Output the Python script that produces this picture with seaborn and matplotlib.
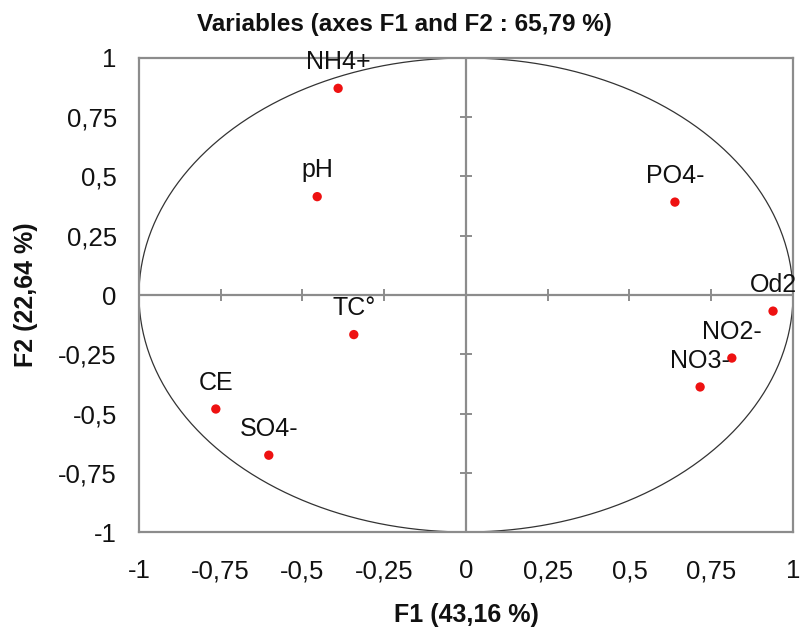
import numpy as np
import pandas as pd
import matplotlib
matplotlib.use("Agg")
import matplotlib.pyplot as plt
import seaborn as sns

# Correlation circle of the PCA variables on F1/F2
variables = ["NH4+", "pH", "PO4-", "Od2", "NO2-", "NO3-", "TC°", "CE", "SO4-"]
f1 = [-0.391, -0.455, 0.639, 0.939, 0.813, 0.716, -0.343, -0.765, -0.603]
f2 = [0.872, 0.415, 0.392, -0.068, -0.266, -0.388, -0.167, -0.481, -0.676]

tick_values = [-1, -0.75, -0.5, -0.25, 0, 0.25, 0.5, 0.75, 1]
tick_labels = ["-1", "-0,75", "-0,5", "-0,25", "0", "0,25", "0,5", "0,75", "1"]

title = "Variables (axes F1 and F2 : 65,79 %)"
xlabel = "F1 (43,16 %)"
ylabel = "F2 (22,64 %)"

df = pd.DataFrame({"variable": variables, "F1": f1, "F2": f2})

sns.set_theme(style="white")
plt.rcParams["font.family"] = ["Liberation Sans", "DejaVu Sans"]

fig = plt.figure(figsize=(8.01, 6.29), dpi=100)
ax = fig.add_axes([0.1735, 0.1542, 0.8165, 0.7536])

grey = "#8c8c8c"

# unit circle
theta = np.linspace(0, 2 * np.pi, 400)
ax.plot(np.cos(theta), np.sin(theta), color="#333333", lw=0.9, zorder=2)

# central axes with their small tick marks
ax.axhline(0, color=grey, lw=1.6, zorder=1)
ax.axvline(0, color=grey, lw=1.6, zorder=1)
inner = [t for t in tick_values if t != 0]
ax.plot(inner, np.zeros(len(inner)), ls="none", marker="|", ms=9,
        mew=1.4, color=grey, zorder=1)
ax.plot(np.zeros(len(inner)), inner, ls="none", marker="_", ms=9,
        mew=1.4, color=grey, zorder=1)

sns.scatterplot(data=df, x="F1", y="F2", ax=ax, color="#ee1111",
                s=45, edgecolor="none", zorder=3, legend=False)

for name, x, y in zip(variables, f1, f2):
    ax.annotate(name, (x, y), xytext=(0, 14), textcoords="offset points",
                ha="center", va="baseline", fontsize=18, color="#111111",
                zorder=4)

ax.set_xlim(-1, 1)
ax.set_ylim(-1, 1)
ax.set_xticks(tick_values)
ax.set_xticklabels(tick_labels)
ax.set_yticks(tick_values)
ax.set_yticklabels(tick_labels)
ax.tick_params(axis="both", length=0, labelsize=18.5, colors="#111111")
ax.tick_params(axis="x", pad=19.5)
ax.tick_params(axis="y", pad=16)

for sp in ax.spines.values():
    sp.set_color(grey)
    sp.set_linewidth(1.6)

ax.set_xlabel(xlabel, fontsize=18, fontweight="bold", color="#111111")
ax.set_ylabel(ylabel, fontsize=18, fontweight="bold", color="#111111")
ax.xaxis.label.set_va("center")
ax.yaxis.label.set_va("center")
ax.xaxis.set_label_coords(0.5, -0.175)
ax.yaxis.set_label_coords(-0.172, 0.5)
fig.suptitle(title, x=0.505, y=0.979, fontsize=17.5, fontweight="bold",
             color="#111111", va="top")

fig.savefig("out.png", dpi=100)
